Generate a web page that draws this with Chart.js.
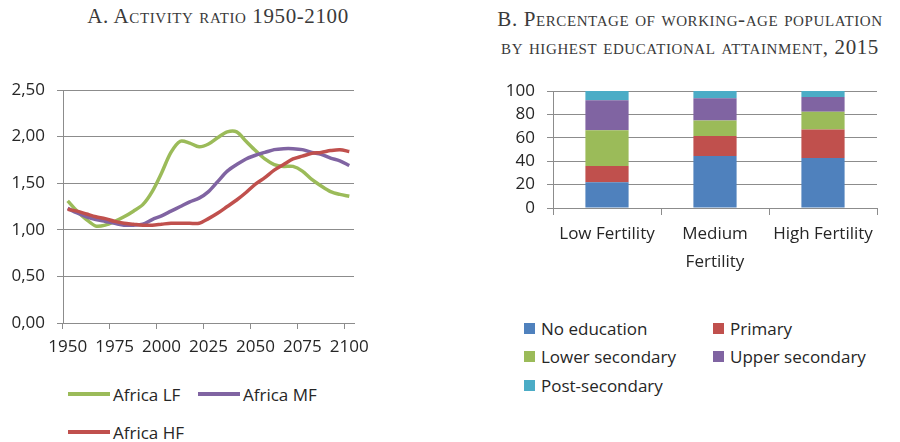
<!DOCTYPE html>
<html>
<head>
    <meta charset="utf-8">
    <style>
        body {
            margin: 0;
            width: 900px;
            height: 442px;
            background: #ffffff;
            position: relative;
            overflow: hidden;
            font-family: "Open Sans", sans-serif;
            color: #262626;
        }
        .title {
            position: absolute;
            font-family: "Liberation Serif", serif;
            font-variant: small-caps;
            font-size: 21px;
            color: #3a3a3a;
            text-align: center;
            white-space: nowrap;
            letter-spacing: 0.6px;
        }
        #titleA { left: 68px; width: 300px; top: 4px; }
        #titleB { left: 480px; width: 420px; top: 5px; line-height: 28px; }
        .box { position: absolute; }
        #boxA { left: 0; top: 70px; width: 380px; height: 305px; }
        #boxB { left: 480px; top: 78px; width: 420px; height: 210px; }
        .legend {
            position: absolute;
            display: grid;
            font-size: 17px;
            color: #262626;
        }
        .legend .item { display: flex; align-items: center; white-space: nowrap; }
        #legendA { left: 68px; top: 375px; grid-template-columns: 130px 130px; grid-auto-rows: 38px; }
        #legendA .swatch { width: 42px; height: 4px; margin-right: 3px; }
        #legendB { left: 524px; top: 314px; grid-template-columns: 189px 180px; grid-auto-rows: 28.5px; }
        #legendB .swatch { width: 11px; height: 11px; margin-right: 6px; }
    </style>
    <script src="https://cdn.jsdelivr.net/npm/chart.js"></script>
</head>
<body>
    <div class="title" id="titleA">A. Activity ratio 1950-2100</div>
    <div class="title" id="titleB">B. Percentage of working-age population<br>by highest educational attainment, 2015</div>

    <div class="box" id="boxA"><canvas id="ratioChart"></canvas></div>
    <div class="legend" id="legendA"></div>

    <div class="box" id="boxB"><canvas id="eduChart"></canvas></div>
    <div class="legend" id="legendB"></div>

    <script>
        // chart A data: activity ratio, every 5 years
        var years = ['1950','1955','1960','1965','1970','1975','1980','1985','1990','1995',
                     '2000','2005','2010','2015','2020','2025','2030','2035','2040','2045',
                     '2050','2055','2060','2065','2070','2075','2080','2085','2090','2095','2100'];
        var africaLF = [1.31,1.20,1.11,1.04,1.05,1.09,1.14,1.20,1.27,1.41,
                        1.61,1.83,1.95,1.93,1.89,1.92,1.99,2.05,2.05,1.95,
                        1.85,1.76,1.70,1.68,1.68,1.63,1.54,1.47,1.41,1.38,1.36];
        var africaMF = [1.23,1.18,1.14,1.11,1.09,1.07,1.05,1.05,1.06,1.11,
                        1.15,1.20,1.25,1.30,1.34,1.41,1.52,1.63,1.70,1.76,
                        1.80,1.83,1.86,1.87,1.87,1.86,1.83,1.81,1.77,1.74,1.69];
        var africaHF = [1.22,1.20,1.17,1.14,1.12,1.09,1.07,1.06,1.05,1.05,
                        1.06,1.07,1.07,1.07,1.07,1.12,1.18,1.25,1.32,1.40,
                        1.49,1.56,1.64,1.70,1.76,1.79,1.82,1.83,1.85,1.86,1.84];

        // chart B data: % of working-age population by education, 2015
        var scenarios = ['Low Fertility', ['Medium', 'Fertility'], 'High Fertility'];
        var noEducation    = [22.0, 44.5, 42.8];
        var primary        = [14.0, 17.0, 24.3];
        var lowerSecondary = [30.5, 13.3, 15.1];
        var upperSecondary = [25.5, 19.0, 12.7];
        var postSecondary  = [ 8.0,  6.2,  5.1];

        var axisGray = '#8c8c8c';
        var tickFont = { family: 'Open Sans', size: 17 };

        Chart.defaults.color = '#262626';
        Chart.defaults.animation = false;

        // fixed y-axis width, and let layout padding alone set the top edge
        function fixYAxis(width) {
            return function (s) {
                s.width = width;
                s.paddingTop = 0;
                s.paddingBottom = 0;
            };
        }

        function lineSet(label, data, color, order) {
            return {
                label: label, data: data, order: order,
                borderColor: color, backgroundColor: color,
                borderWidth: 3.5, pointRadius: 0, tension: 0.3
            };
        }

        var ratioChart = new Chart(document.getElementById('ratioChart'), {
            type: 'line',
            data: {
                labels: years,
                datasets: [
                    lineSet('Africa LF', africaLF, '#9BBB59', 3),
                    lineSet('Africa MF', africaMF, '#8064A2', 2),
                    lineSet('Africa HF', africaHF, '#C0504D', 1)
                ]
            },
            options: {
                responsive: true,
                maintainAspectRatio: false,
                layout: { padding: { top: 20, right: 26, left: 0, bottom: 0 } },
                plugins: { legend: { display: false }, tooltip: { enabled: false } },
                scales: {
                    x: {
                        offset: true,
                        grid: {
                            offset: true,
                            drawOnChartArea: false,
                            tickLength: 6,
                            color: function (c) { return c.index % 5 === 0 ? axisGray : 'transparent'; }
                        },
                        border: { color: axisGray },
                        ticks: {
                            autoSkip: false, maxRotation: 0, padding: 8, font: tickFont,
                            callback: function (v, i) { return i % 5 === 0 ? years[i] : ''; }
                        },
                        afterFit: function (s) { s.height = 52; }
                    },
                    y: {
                        min: 0, max: 2.5,
                        grid: { color: axisGray, tickLength: 6 },
                        border: { color: axisGray },
                        ticks: {
                            stepSize: 0.5, autoSkip: false, padding: 12, font: tickFont,
                            callback: function (v) { return v.toFixed(2).replace('.', ','); }
                        },
                        afterFit: fixYAxis(63)
                    }
                }
            }
        });

        function barSet(label, data, color) {
            return { label: label, data: data, backgroundColor: color, barPercentage: 0.4, categoryPercentage: 1 };
        }

        var eduChart = new Chart(document.getElementById('eduChart'), {
            type: 'bar',
            data: {
                labels: scenarios,
                datasets: [
                    barSet('No education', noEducation, '#4F81BD'),
                    barSet('Primary', primary, '#C0504D'),
                    barSet('Lower secondary', lowerSecondary, '#9BBB59'),
                    barSet('Upper secondary', upperSecondary, '#8064A2'),
                    barSet('Post-secondary', postSecondary, '#4BACC6')
                ]
            },
            options: {
                responsive: true,
                maintainAspectRatio: false,
                layout: { padding: { top: 13, right: 23, left: 0, bottom: 0 } },
                plugins: { legend: { display: false }, tooltip: { enabled: false } },
                scales: {
                    x: {
                        stacked: true,
                        grid: { offset: true, drawOnChartArea: false, tickLength: 7, color: axisGray },
                        border: { color: axisGray },
                        ticks: { maxRotation: 0, padding: 6, font: { family: 'Open Sans', size: 17, lineHeight: 1.6 } },
                        afterFit: function (s) { s.height = 80; }
                    },
                    y: {
                        stacked: true,
                        min: 0, max: 100,
                        grid: { color: axisGray, tickLength: 6 },
                        border: { color: axisGray },
                        ticks: { stepSize: 20, autoSkip: false, padding: 12, font: tickFont },
                        afterFit: fixYAxis(73)
                    }
                }
            }
        });

        // html legends built from the chart's own legend items
        function buildLegend(chart, id) {
            var holder = document.getElementById(id);
            var items = chart.options.plugins.legend.labels.generateLabels(chart);
            items.sort(function (a, b) { return a.datasetIndex - b.datasetIndex; });
            items.forEach(function (it) {
                var row = document.createElement('div');
                row.className = 'item';
                var sw = document.createElement('span');
                sw.className = 'swatch';
                sw.style.background = chart.data.datasets[it.datasetIndex].backgroundColor;
                var txt = document.createElement('span');
                txt.textContent = it.text;
                row.appendChild(sw);
                row.appendChild(txt);
                holder.appendChild(row);
            });
        }
        buildLegend(ratioChart, 'legendA');
        buildLegend(eduChart, 'legendB');
    </script>
</body>
</html>
